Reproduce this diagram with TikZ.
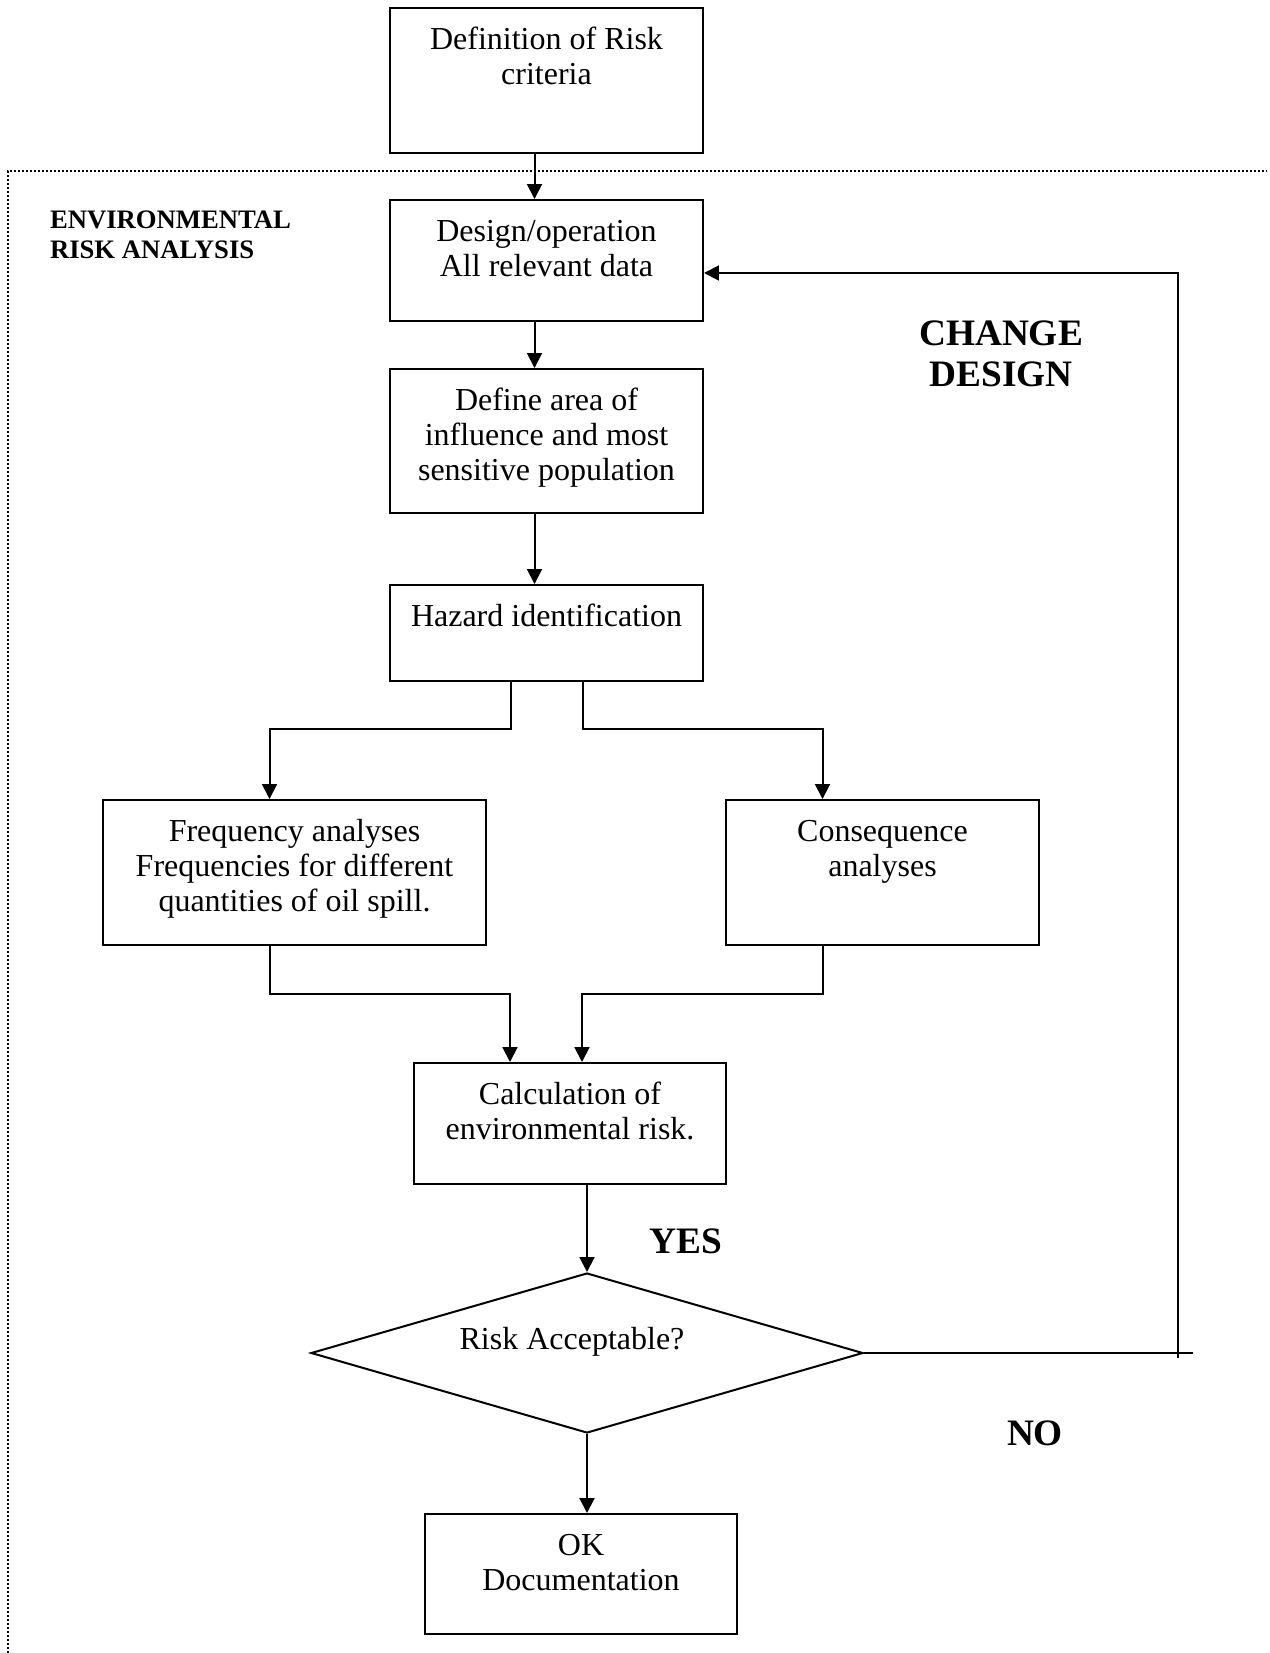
\documentclass[tikz,border=0pt]{standalone}
\usepackage{fontspec}
\setmainfont{Liberation Serif}
\usetikzlibrary{shapes.geometric,arrows.meta}
\newlength{\px}
\setlength{\px}{0.375pt}
% texto arriba dentro de la caja
\newcommand{\cajatxt}[3]{\parbox[t][#2\px][t]{#1\px}{\vspace*{6.3pt}\centering\strut #3}}
\tikzset{
  caja/.style={draw, inner sep=0pt, anchor=north west},
  rombo/.style={diamond, draw, inner sep=0pt, minimum width=552\px, minimum height=160\px},
  rotulo/.style 2 args={inner sep=0pt, font=\bfseries\fontsize{#1}{#2}\selectfont},
  borde/.style={line width=0.75pt, dash pattern=on 0.75pt off 0.75pt}
}
\begin{document}
\begin{tikzpicture}[x=\px, y=-\px, line width=0.75pt, font=\fontsize{12}{13.1}\selectfont,
  >={Triangle[length=5.6pt,width=5.6pt]}]
  \useasboundingbox (0,0) rectangle (1269,1653);
  % Borde punteado
  \draw[borde] (8,1653) -- (8,171) -- (1267,171);
  \node[rotulo={10}{11.25}, align=left, anchor=west] (era) at (49,235) {ENVIRONMENTAL\\RISK ANALYSIS};

  % Cajas
  \node[caja] (crit) at (389,7) {\cajatxt{313}{145}{Definition of Risk\\criteria}};
  \node[caja] (design) at (389,199) {\cajatxt{313}{121}{Design/operation\\All relevant data}};
  \node[caja] (area) at (389,368) {\cajatxt{313}{144}{Define area of\\influence and most\\sensitive population}};
  \node[caja] (hazard) at (389,584) {\cajatxt{313}{96}{Hazard identification}};
  \node[caja] (freq) at (102,799) {\cajatxt{383}{145}{Frequency analyses\\Frequencies for different\\quantities of oil spill.}};
  \node[caja] (cons) at (725,799) {\cajatxt{313}{145}{Consequence\\analyses}};
  \node[caja] (calc) at (413,1062) {\cajatxt{312}{121}{Calculation of\\environmental risk.}};
  \node[rombo, label={[anchor=base, xshift=-15\px, yshift=11\px]center:Risk Acceptable?}] (dia) at (587,1353) {};
  \node[caja] (ok) at (424,1513) {\cajatxt{312}{120}{OK\\Documentation}};

  % Flechas
  \draw[->] ([xshift=-12\px]crit.south) -- ([xshift=-12\px]design.north);
  \draw[->] ([xshift=-12\px]design.south) -- ([xshift=-12\px]area.north);
  \draw[->] ([xshift=-12\px]area.south) -- ([xshift=-12\px]hazard.north);
  \draw[->] ([xshift=-36\px]hazard.south) -- ++(0,47) -| ([xshift=-25\px]freq.north);
  \draw[->] ([xshift=36\px]hazard.south) -- ++(0,47) -| ([xshift=-60\px]cons.north);
  \draw[->] ([xshift=-25\px]freq.south) -- ++(0,48) -| ([xshift=-60\px]calc.north);
  \draw[->] ([xshift=-60\px]cons.south) -- ++(0,48) -| ([xshift=12\px]calc.north);
  \draw[->] (dia.north |- calc.south) -- (dia.north);
  \draw[->] (dia.south) -- (dia.south |- ok.north);

  % Lazo de retorno
  \coordinate (nofin) at (1193,1353);
  \coordinate (nobase) at (1178,1358);
  \draw (dia.east) -- (nofin);
  \draw[->] (nobase) |- ([yshift=-12.5\px]design.east);

  % Rotulos
  \node[rotulo={14}{15.4}, align=center] (cambio) at (1001,353.5) {CHANGE\\DESIGN};
  \node[rotulo={14}{16}, anchor=base] (si) at (686,1253) {YES};
  \node[rotulo={14}{16}, anchor=base] (no) at (1035,1445) {NO};
\end{tikzpicture}
\end{document}
